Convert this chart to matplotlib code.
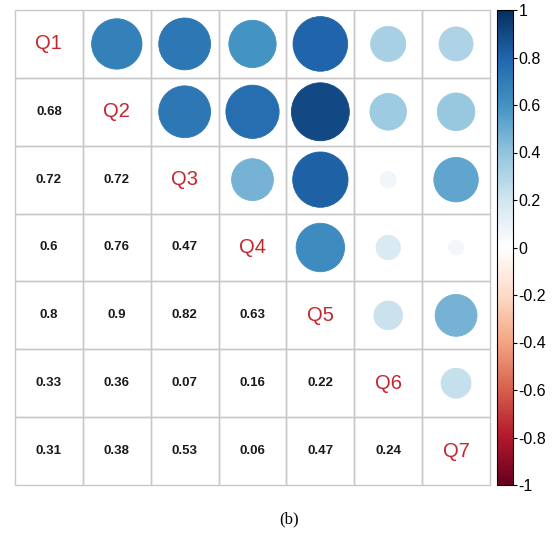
import numpy as np
import matplotlib.pyplot as plt
from matplotlib.colors import LinearSegmentedColormap
from matplotlib.patches import Circle, Rectangle
import matplotlib as mpl

# --- Data ---
labels = ["Q1", "Q2", "Q3", "Q4", "Q5", "Q6", "Q7"]
# lower-triangle correlations, row by row (row i holds r(Q_i, Q_1..Q_{i-1}))
lower = [
    [],
    [0.68],
    [0.72, 0.72],
    [0.60, 0.76, 0.47],
    [0.80, 0.90, 0.82, 0.63],
    [0.33, 0.36, 0.07, 0.16, 0.22],
    [0.31, 0.38, 0.53, 0.06, 0.47, 0.24],
]
cbar_ticks = [-1, -0.8, -0.6, -0.4, -0.2, 0, 0.2, 0.4, 0.6, 0.8, 1]

n = len(labels)
corr = np.eye(n)
for i, row in enumerate(lower):
    for j, v in enumerate(row):
        corr[i, j] = v
        corr[j, i] = v

# corrplot RdBu palette
cmap = LinearSegmentedColormap.from_list("corr_rdbu", [
    "#67001F", "#B2182B", "#D6604D", "#F4A582", "#FDDBC7", "#FFFFFF",
    "#D1E5F0", "#92C5DE", "#4393C3", "#2166AC", "#053061"])
norm = mpl.colors.Normalize(-1, 1)

W, H = 560, 533
fig = plt.figure(figsize=(W / 100, H / 100), dpi=100)
ax = fig.add_axes([15 / W, (H - 485) / H, 475 / W, 475 / H])
ax.set_xlim(0, n)
ax.set_ylim(n, 0)
ax.set_aspect("equal")
ax.axis("off")

for i in range(n):
    for j in range(n):
        ax.add_patch(Rectangle((j, i), 1, 1, fill=False, edgecolor="#C8C8C8",
                               lw=1, clip_on=False))
        cx, cy = j + 0.5, i + 0.5
        if i == j:
            ax.text(cx, cy, labels[i], ha="center", va="center", color="#C4262E",
                    fontsize=14.5, family="Liberation Sans")
        elif i > j:
            ax.text(cx, cy, f"{corr[i, j]:g}", ha="center", va="center",
                    color="#1A1A1A", fontsize=9.5, fontweight="bold",
                    family="Liberation Sans")
        else:
            r = 0.45 * np.sqrt(abs(corr[i, j]))
            c = cmap(norm(corr[i, j]))
            ax.add_patch(Circle((cx, cy), r, facecolor=c, edgecolor=c, lw=0.6))

# --- Colour bar ---
cax = fig.add_axes([497 / W, (H - 485) / H, 16 / W, 475 / H])
cb = mpl.colorbar.ColorbarBase(cax, cmap=cmap, norm=norm, ticks=cbar_ticks)
cb.outline.set_linewidth(0.8)
cb.ax.tick_params(length=3, width=0.8, labelsize=11.5, pad=1)
cb.ax.set_yticklabels([f"{t:g}" for t in cbar_ticks], family="Liberation Sans")

fig.text(289 / W, 1 - 519 / H, "(b)", ha="center", va="center",
         fontsize=12, family="Liberation Serif")

plt.savefig("out.png", dpi=100)
